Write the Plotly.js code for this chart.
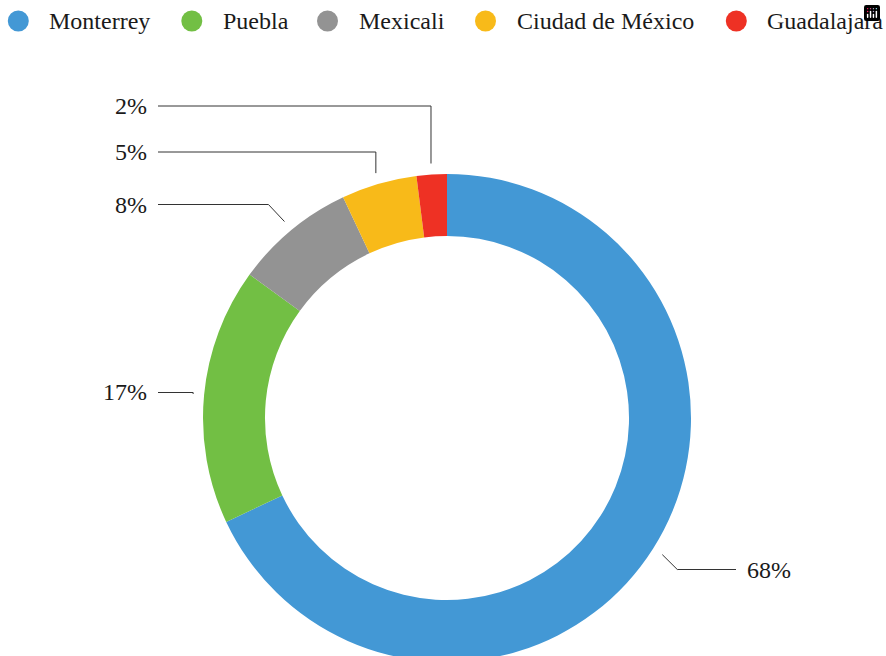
<!DOCTYPE html>
<html>
<head>
<meta charset="utf-8">
<script src="https://cdn.plot.ly/plotly-3.0.1.min.js"></script>
<style>
  html, body { margin: 0; padding: 0; overflow: hidden; background: #fff; }
  #chart { width: 886px; height: 680px; }
</style>
</head>
<body>
<div id="chart"></div>
<script>
// ---- data ----
const cities = ['Monterrey', 'Puebla', 'Mexicali', 'Ciudad de México', 'Guadalajara'];
const shares = [68, 17, 8, 5, 2];
const colors = ['#4398d5', '#72bf44', '#939393', '#f8ba19', '#ee3124'];

// ---- layout constants (pixels) ----
const W = 886, H = 680;
const CX = 447, CY = 418, R = 244, HOLE = 0.746;
const LEAD_OFF = 11;
const labelY = [569.5, 392.5, 204.5, 152, 106];
const elbowDx = [15, 0, -16, 0, 0];
const LEFT_END = 158, RIGHT_END = 736;
const legendX = [18.3, 191.8, 327.5, 485.5, 736.3];
const LEGEND_Y = 21, LEGEND_R = 10.5;
const legendFams = ['Liberation Serif', 'Liberation Serif', 'Times New Roman', 'serif', 'Times'];
const legendCols = ['#1a1a1a', '#1a1a1a', '#1a1a1a', '#1a1a1a', '#1a1a1a'];
const labelFams = ['Times New Roman', 'serif', 'Times', 'Liberation Serif', 'Liberation Serif'];

const px = x => x / W;
const py = y => 1 - y / H;

const pie = {
  type: 'pie',
  labels: cities,
  values: shares,
  marker: { colors: colors, line: { width: 0 } },
  hole: HOLE,
  sort: false,
  direction: 'clockwise',
  rotation: 0,
  textinfo: 'none',
  showlegend: false,
  domain: { x: [px(CX - R), px(CX + R)], y: [py(CY + R), py(CY - R)] }
};

const shapes = [];
const annotations = [];

const total = shares.reduce((a, b) => a + b, 0);
let cum = 0;
shares.forEach((v, i) => {
  const mid = (cum + v / 2) / total * 2 * Math.PI;
  cum += v;
  const ax = CX + (R + LEAD_OFF) * Math.sin(mid);
  const ay = CY - (R + LEAD_OFF) * Math.cos(mid);
  const right = Math.sin(mid) > 0;
  const ex = ax + elbowDx[i];
  const ey = labelY[i];
  const endX = right ? RIGHT_END : LEFT_END;
  shapes.push({
    type: 'path', xref: 'paper', yref: 'paper',
    path: `M${px(ax)},${py(ay)} L${px(ex)},${py(ey)} L${px(endX)},${py(ey)}`,
    line: { color: '#333', width: 1 }
  });
  annotations.push({
    xref: 'paper', yref: 'paper',
    x: px(right ? endX + 9 : endX - 9), y: py(ey),
    xanchor: right ? 'left' : 'right', yanchor: 'middle',
    text: v + '%', showarrow: false,
    font: { family: labelFams[i], size: 24, color: '#1a1a1a' }
  });
});

cities.forEach((c, i) => {
  shapes.push({
    type: 'circle', xref: 'paper', yref: 'paper',
    x0: px(legendX[i] - LEGEND_R), x1: px(legendX[i] + LEGEND_R),
    y0: py(LEGEND_Y + LEGEND_R), y1: py(LEGEND_Y - LEGEND_R),
    fillcolor: colors[i], line: { width: 0 }
  });
  annotations.push({
    xref: 'paper', yref: 'paper',
    x: px(legendX[i] + 29), y: py(LEGEND_Y),
    xanchor: 'left', yanchor: 'middle',
    text: c, showarrow: false,
    font: { family: legendFams[i], size: 24, color: legendCols[i] }
  });
});

const layout = {
  width: W, height: H,
  margin: { l: 0, r: 0, t: 0, b: 0 },
  showlegend: false,
  modebar: { bgcolor: 'rgba(0,0,0,0)', color: 'rgba(0,0,0,0)', activecolor: 'rgba(0,0,0,0)' },
  shapes: shapes,
  annotations: annotations
};

Plotly.newPlot('chart', [pie], layout);
</script>
</body>
</html>
